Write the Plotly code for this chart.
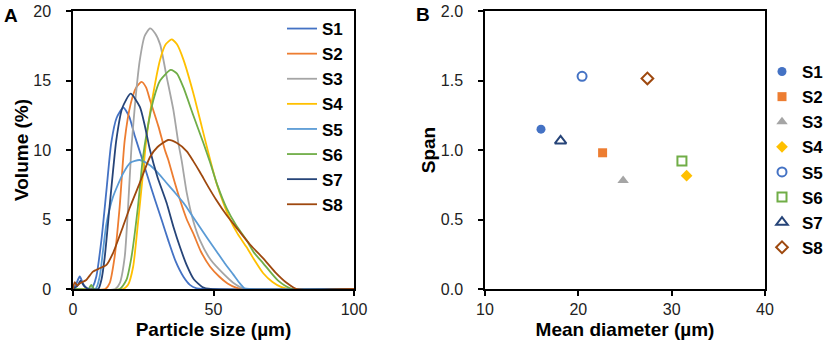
import plotly.graph_objects as go

# ---------------- Panel A: particle size distributions ----------------
series_names = ["S1", "S2", "S3", "S4", "S5", "S6", "S7", "S8"]
colors = ["#4472C4", "#ED7D31", "#A5A5A5", "#FFC000", "#5B9BD5", "#70AD47", "#264478", "#9E480E"]

s1_x = [0, 1, 2.4, 3.8, 5, 6.5, 7.1, 8.3, 10.1, 11.9, 13.6, 15.5, 17.9, 20, 22, 24.4, 27, 29.2, 31.5, 33.9, 36.5, 39.3, 41.6, 44, 46, 100]
s1_y = [0, 0.3, 0.9, 0.3, 0.05, 0, 0.17, 0.9, 3.5, 7.1, 10.5, 12.3, 13.05, 12.4, 11.0, 9.5, 7.8, 6.4, 5.0, 3.5, 2.0, 0.88, 0.3, 0.05, 0, 0]

s2_x = [0, 11.5, 13, 14.8, 16.6, 18.4, 20.5, 22.5, 24.4, 26, 27.4, 30.4, 32.7, 33.9, 36, 38.1, 40.5, 42.8, 45.5, 48.8, 52, 55, 58, 60, 100]
s2_y = [0, 0, 0.4, 2.3, 5.9, 10.7, 13.3, 14.5, 14.9, 14.5, 13.6, 11.7, 10.0, 9.3, 7.8, 6.4, 5.0, 4.0, 2.7, 1.6, 0.9, 0.4, 0.1, 0, 0]

s3_x = [0, 15, 16.6, 18.4, 19.6, 20.8, 22.3, 23.8, 25.5, 27.4, 29.2, 31.0, 33.3, 35.7, 37.5, 38.7, 40.5, 42.8, 45.2, 49, 53.5, 57, 61, 100]
s3_y = [0, 0, 0.4, 2.3, 5.9, 10.2, 13.8, 16.5, 18.2, 18.75, 18.4, 17.6, 15.3, 12.9, 10.5, 9.2, 6.9, 4.9, 3.5, 2.1, 1.1, 0.45, 0, 0]

s4_x = [0, 17.8, 19.6, 21.4, 23.1, 24.9, 26.2, 28.6, 31, 33, 35.1, 37, 39.3, 42.8, 45.8, 48.8, 51.1, 53.5, 55.9, 58.5, 61.8, 64.5, 67.7, 71, 74, 77, 100]
s4_y = [0, 0, 0.3, 1.6, 4.7, 8.3, 10.96, 14.1, 16.5, 17.6, 17.96, 17.6, 16.5, 14.1, 11.7, 9.3, 7.6, 6.2, 5.0, 4.0, 3.0, 2.1, 1.13, 0.5, 0.15, 0, 0]

s5_x = [0, 8, 9.5, 10.7, 11.9, 14.2, 17.8, 20.5, 23.7, 27.4, 30, 33, 36, 39.3, 42, 45, 48, 51.1, 54, 57, 59.4, 61, 63, 100]
s5_y = [0, 0, 0.9, 2.8, 4.7, 6.6, 8.3, 9.1, 9.28, 8.9, 8.4, 7.7, 7.0, 6.2, 5.4, 4.5, 3.6, 2.7, 1.85, 1.05, 0.4, 0.05, 0, 0]

s6_x = [0, 5.5, 6.5, 7.5, 16.6, 19, 20.8, 23.1, 24.8, 26.2, 28.6, 31, 34.8, 37, 39.3, 42.8, 46.4, 48.8, 51.5, 54.7, 58, 61.8, 64.5, 67.7, 73, 78, 100]
s6_y = [0, 0, 0.3, 0, 0, 0.65, 2.3, 5.9, 9.3, 11.2, 13.6, 15.0, 15.76, 15.5, 14.5, 12.5, 10.5, 9.1, 7.4, 5.8, 4.6, 3.5, 2.6, 1.85, 0.6, 0, 0]

s7_x = [0, 1.5, 2.7, 4, 5.5, 9, 10.1, 11.3, 13, 14.3, 15.4, 17.5, 20.5, 23.8, 25.5, 27.4, 30, 33.3, 35.7, 38.1, 40.5, 43, 46, 49, 100]
s7_y = [0, 0.2, 0.6, 0.2, 0, 0, 0.65, 2.3, 5.9, 8.6, 10.7, 13.0, 14.05, 13.1, 11.8, 10.0, 8.1, 6.2, 4.5, 3.0, 1.7, 0.7, 0.15, 0, 0]

s8_x = [0, 0.6, 1.5, 2.4, 4.7, 7.1, 9.5, 11.9, 14.2, 17.8, 20.3, 23.7, 27.4, 30, 33.9, 37, 40.5, 42.8, 45.2, 48, 51, 54.7, 59, 63, 67.7, 72, 76, 79.6, 100]
s8_y = [0, 0.5, 0.25, 0.4, 0.65, 1.25, 1.49, 1.73, 2.57, 4.5, 5.9, 7.6, 9.5, 10.2, 10.72, 10.5, 9.9, 9.2, 8.4, 7.4, 6.4, 5.3, 4.2, 3.2, 2.2, 1.2, 0.45, 0, 0]

dist_x = [s1_x, s2_x, s3_x, s4_x, s5_x, s6_x, s7_x, s8_x]
dist_y = [s1_y, s2_y, s3_y, s4_y, s5_y, s6_y, s7_y, s8_y]

# ---------------- Panel B: span vs mean diameter ----------------
mean_diameter = [16.0, 22.6, 24.8, 31.6, 20.4, 31.1, 18.1, 27.4]
span = [1.15, 0.98, 0.78, 0.815, 1.53, 0.92, 1.065, 1.515]
symbols = ["circle", "square", "triangle-up", "diamond",
           "circle-open", "square-open", "triangle-up-open", "diamond-open"]
marker_colors = ["#4472C4", "#ED7D31", "#A5A5A5", "#FFC000", "#4472C4", "#70AD47", "#264478", "#9E480E"]

FONT = "Arial, Liberation Sans, sans-serif"
W, H = 823, 347

fig = go.Figure()

for name, xs, ys, c in zip(series_names, dist_x, dist_y, colors):
    fig.add_trace(go.Scatter(
        x=xs, y=ys, mode="lines", name="<b>" + name + "</b>",
        line=dict(color=c, width=1.8, shape="spline", smoothing=0.6),
        xaxis="x", yaxis="y", legend="legend",
    ))

for name, xv, yv, sym, c in zip(series_names, mean_diameter, span, symbols, marker_colors):
    fig.add_trace(go.Scatter(
        x=[xv], y=[yv], mode="markers", name="<b>" + name + "</b>",
        marker=dict(symbol=sym, color=c, size=9 if "triangle" not in sym else 10,
                    line=dict(color=c, width=2 if "open" in sym else 0)),
        xaxis="x2", yaxis="y2", legend="legend2",
    ))

ydom = [1 - 289 / H, 1 - 11 / H]

axis_common = dict(
    showline=True, linecolor="black", linewidth=1.5, mirror=True,
    ticks="outside", ticklen=5, tickcolor="black", tickwidth=1.5,
    showgrid=False, zeroline=False, automargin=False,
    tickfont=dict(family=FONT, size=16, color="#222"),
    layer="below traces",
)

fig.update_layout(
    width=W, height=H,
    margin=dict(l=0, r=0, t=0, b=0, autoexpand=False),
    paper_bgcolor="white", plot_bgcolor="white",
    font=dict(family=FONT, color="black"),
    showlegend=True,
    xaxis=dict(domain=[73 / W, 354 / W], range=[0, 100], tickvals=[0, 50, 100],
               title=dict(text="<b>Particle size (µm)</b>", font=dict(family=FONT, size=19), standoff=6),
               ticklabelstandoff=0, anchor="y", **axis_common),
    yaxis=dict(domain=ydom, range=[0, 20], tickvals=[0, 5, 10, 15, 20],
               title=dict(text="<b>Volume (%)</b>", font=dict(family=FONT, size=19), standoff=0),
               ticklabelstandoff=12, anchor="x", **axis_common),
    xaxis2=dict(domain=[485 / W, 765 / W], range=[10, 40], tickvals=[10, 20, 30, 40],
                title=dict(text="<b>Mean diameter (µm)</b>", font=dict(family=FONT, size=19), standoff=6),
                ticklabelstandoff=0, anchor="y2", **axis_common),
    yaxis2=dict(domain=ydom, range=[0, 2], tickvals=[0, 0.5, 1, 1.5, 2], tickformat=".1f",
                title=dict(text="<b>Span</b>", font=dict(family=FONT, size=19), standoff=0),
                ticklabelstandoff=12, anchor="x2", **axis_common),
    legend=dict(x=282 / W, y=1 - 11 / H, xanchor="left", yanchor="top",
                bgcolor="rgba(0,0,0,0)", borderwidth=0,
                font=dict(family=FONT, size=17, color="black"), itemwidth=30),
    legend2=dict(x=762 / W, y=1 - 54 / H, xanchor="left", yanchor="top",
                 bgcolor="rgba(0,0,0,0)", borderwidth=0,
                 font=dict(family=FONT, size=17, color="black"), itemwidth=30),
    annotations=[
        dict(text="<b>A</b>", x=2 / W, y=1 - 3 / H, xref="paper", yref="paper",
             xanchor="left", yanchor="top", showarrow=False, font=dict(family=FONT, size=19)),
        dict(text="<b>B</b>", x=414 / W, y=1 - 2 / H, xref="paper", yref="paper",
             xanchor="left", yanchor="top", showarrow=False, font=dict(family=FONT, size=19)),
    ],
)

fig.write_html("out.html", config={"displayModeBar": False},
               post_script="document.body.style.margin='0px';")
